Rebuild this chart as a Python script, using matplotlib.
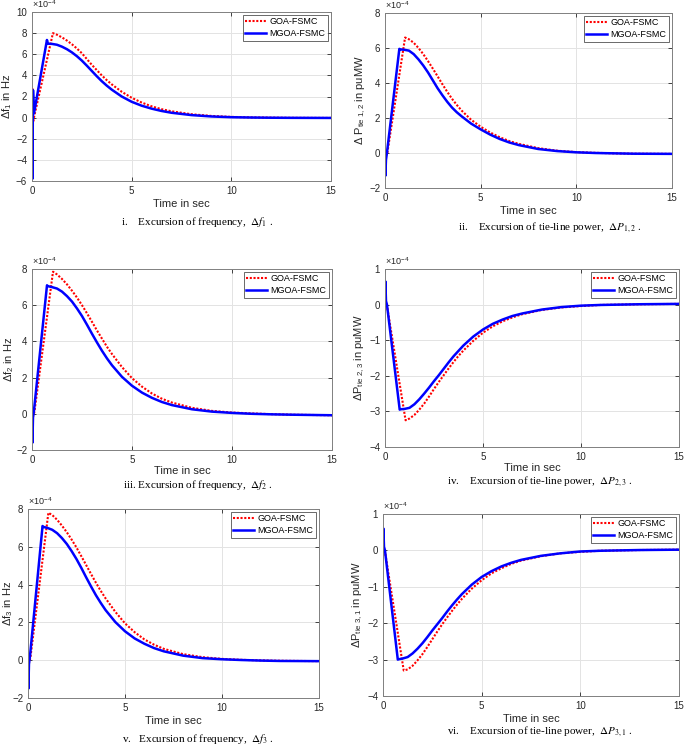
import matplotlib
matplotlib.use("Agg")
import matplotlib.pyplot as plt

plt.rcParams['font.family'] = ['Liberation Sans', 'DejaVu Sans']
plt.rcParams['mathtext.fontset'] = 'custom'
plt.rcParams['mathtext.rm'] = 'Liberation Sans'
plt.rcParams['mathtext.it'] = 'Liberation Sans:italic'

t_mgoa = [0, 0.02, 0.05, 0.1,
          0.75, 0.8, 1.0, 1.25, 1.5, 1.75, 2.0, 2.25, 2.5, 2.75, 3.0, 3.25, 3.5, 3.75, 4.0,
          4.5, 5, 5.5, 6, 6.5, 7,
          8, 9, 10, 11, 12, 13, 15]
t_goa = [0, 0.03, 0.06, 0.12,
         1.05, 1.25, 1.5, 1.75, 2.0, 2.25, 2.5, 2.75, 3.0, 3.25, 3.5, 3.75, 4.0,
         4.5, 5, 5.5, 6, 6.5, 7,
         8, 9, 10, 11, 12, 13, 15]

# values in units of 1e-4
df1_mgoa = [0, -5.8, 2.6, 0.4,
            7.35, 7.0, 6.98, 6.9, 6.72, 6.48, 6.18, 5.82, 5.4, 4.92, 4.42, 3.92, 3.45, 3.03, 2.65,
            2.0, 1.5, 1.13, 0.85, 0.63, 0.46,
            0.24, 0.11, 0.04, 0.01, -0.01, -0.02, -0.03]
df1_goa = [0, 2.8, -0.4, 0.2,
           8.0, 7.85, 7.6, 7.3, 6.95, 6.55, 6.1, 5.55, 5.0, 4.5, 4.0, 3.55, 3.15,
           2.45, 1.88, 1.43, 1.07, 0.8, 0.6,
           0.32, 0.16, 0.07, 0.02, 0, -0.02, -0.03]

dp12_mgoa = [0, -1.3, -0.4, 0.0,
             5.95, 5.92, 5.9, 5.85, 5.65, 5.35, 5.0, 4.6, 4.15, 3.7, 3.3, 2.93, 2.6, 2.33, 2.1,
             1.68, 1.35, 1.05, 0.8, 0.6, 0.45,
             0.23, 0.11, 0.04, 0.0, -0.02, -0.04, -0.05]
dp12_goa = [0, -0.2, -0.1, 0.0,
            6.6, 6.5, 6.3, 6.0, 5.65, 5.25, 4.82, 4.38, 3.93, 3.5, 3.1, 2.75, 2.43,
            1.9, 1.5, 1.17, 0.9, 0.68, 0.52,
            0.28, 0.13, 0.05, 0.01, -0.02, -0.04, -0.05]

df2_mgoa = [0, -1.6, -0.2, 0.2,
            7.1, 7.05, 7.0, 6.92, 6.75, 6.5, 6.2, 5.82, 5.4, 4.92, 4.42, 3.94, 3.48, 3.06, 2.68,
            2.04, 1.55, 1.17, 0.88, 0.65, 0.48,
            0.25, 0.12, 0.05, 0.0, -0.03, -0.05, -0.08]
df2_goa = [0, -0.3, -0.1, 0.1,
           7.85, 7.7, 7.45, 7.15, 6.8, 6.42, 6.0, 5.55, 5.08, 4.6, 4.15, 3.7, 3.3,
           2.58, 1.97, 1.5, 1.12, 0.83, 0.62,
           0.33, 0.16, 0.07, 0.02, -0.02, -0.05, -0.08]

dp23_mgoa = [0, 0.65, 0.1, 0.0,
             -2.95, -2.94, -2.93, -2.9, -2.8, -2.66, -2.5, -2.33, -2.15, -1.98, -1.8, -1.62, -1.45, -1.3, -1.15,
             -0.9, -0.7, -0.54, -0.42, -0.32, -0.25,
             -0.14, -0.07, -0.03, -0.01, 0.0, 0.01, 0.02]
dp23_goa = [0, -0.05, 0.0, -0.1,
            -3.25, -3.2, -3.1, -2.95, -2.78, -2.58, -2.37, -2.17, -1.98, -1.79, -1.61, -1.44, -1.29,
            -1.02, -0.79, -0.61, -0.47, -0.36, -0.27,
            -0.15, -0.08, -0.04, -0.01, 0.0, 0.01, 0.02]

df3_mgoa = [0, -1.5, -0.2, 0.2,
            7.1, 7.05, 7.0, 6.9, 6.72, 6.46, 6.15, 5.77, 5.35, 4.88, 4.38, 3.9, 3.44, 3.03, 2.65,
            2.02, 1.53, 1.15, 0.87, 0.64, 0.47,
            0.24, 0.11, 0.05, 0.01, -0.02, -0.04, -0.05]
df3_goa = [0, -0.3, -0.1, 0.1,
           7.8, 7.68, 7.43, 7.12, 6.77, 6.38, 5.96, 5.5, 5.03, 4.56, 4.1, 3.67, 3.27,
           2.56, 1.95, 1.48, 1.1, 0.82, 0.6,
           0.32, 0.16, 0.07, 0.02, -0.01, -0.03, -0.05]

dp31_mgoa = [0, 0.6, 0.1, 0.0,
             -3.0, -2.99, -2.97, -2.93, -2.83, -2.7, -2.55, -2.38, -2.2, -2.03, -1.86, -1.68, -1.51, -1.35, -1.2,
             -0.94, -0.73, -0.57, -0.44, -0.34, -0.26,
             -0.15, -0.08, -0.03, -0.01, 0.0, 0.01, 0.02]
dp31_goa = [0, -0.05, 0.0, -0.1,
            -3.3, -3.27, -3.17, -3.02, -2.85, -2.65, -2.44, -2.23, -2.03, -1.84, -1.66, -1.49, -1.33,
            -1.05, -0.82, -0.63, -0.49, -0.37, -0.28,
            -0.16, -0.08, -0.04, -0.01, 0.0, 0.01, 0.02]

ylabels = [r'$\Delta$f$_{1}$ in Hz', r'$\Delta$ P$_{\mathrm{tie\ 1,2}}$ in puMW',
           r'$\Delta$f$_{2}$ in Hz', r'$\Delta$P$_{\mathrm{tie\ 2,3}}$ in puMW',
           r'$\Delta$f$_{3}$ in Hz', r'$\Delta$P$_{\mathrm{tie\ 3,1}}$ in puMW']
captions = [r'i.    Excursion of frequency,  $\Delta f_1$ .',
            r'ii.    Excursion of tie-line power,  $\Delta P_{1,2}$ .',
            r'iii. Excursion of frequency,  $\Delta f_2$ .',
            r'iv.    Excursion of tie-line power,  $\Delta P_{2,3}$ .',
            r'v.   Excursion of frequency,  $\Delta f_3$ .',
            r'vi.    Excursion of tie-line power,  $\Delta P_{3,1}$ .']
ylims = [(-6, 10), (-2, 8), (-2, 8), (-4, 1), (-2, 8), (-4, 1)]
ysteps = [2, 2, 2, 1, 2, 1]
goa_series = [df1_goa, dp12_goa, df2_goa, dp23_goa, df3_goa, dp31_goa]
mgoa_series = [df1_mgoa, dp12_mgoa, df2_mgoa, dp23_mgoa, df3_mgoa, dp31_mgoa]

# layout in pixels: left, top, right, bottom of each axes; ylabel centre x; caption centre
W, H = 685, 748
boxes = [(32, 12, 331, 181), (385, 13, 672, 188),
         (32, 269, 332, 450), (385, 269, 679, 447),
         (28, 509, 319, 698), (383, 514, 679, 696)]
ylab_x = [7, 361, 9, 360, 8, 358]
xlab_pad = [2, 2, 0.5, 0.5, 2, 2]
cap_pos = [(197, 222), (550, 228), (198, 485), (540, 482), (198, 739), (540, 732)]

fig = plt.figure(figsize=(W / 100, H / 100), dpi=100)

for i in range(6):
    l, t, r, b = boxes[i]
    ax = fig.add_axes([l / W, 1 - b / H, (r - l) / W, (b - t) / H])
    ax.plot(t_goa, goa_series[i], color='red', ls=(0, (1, 0.8)), lw=1.5, label='GOA-FSMC')
    ax.plot(t_mgoa, mgoa_series[i], color='blue', ls='-', lw=1.8, label='MGOA-FSMC')
    lo, hi = ylims[i]
    ax.set_xlim(0, 15)
    ax.set_ylim(lo, hi)
    ax.set_xticks([0, 5, 10, 15])
    ax.set_yticks(range(lo, hi + 1, ysteps[i]))
    ax.grid(True, color='#e3e3e3', lw=0.7)
    ax.set_axisbelow(True)
    ax.tick_params(direction='in', length=3, labelsize=7, colors='#262626',
                   top=True, right=True, width=0.6)
    for s in ax.spines.values():
        s.set_color('#808080')
        s.set_linewidth(0.7)
    ax.set_xlabel('Time in sec', fontsize=8, labelpad=xlab_pad[i], color='#262626')
    ax.set_ylabel(ylabels[i], fontsize=8, color='#262626', va='center')
    ax.yaxis.set_label_coords((ylab_x[i] - l) / (r - l), 0.5)
    ax.text(0.0, 1.01, r'$\times10^{-4}$', transform=ax.transAxes,
            fontsize=6.5, color='#262626', va='bottom')
    leg = ax.legend(loc='upper right', fontsize=6.5, frameon=True, fancybox=False,
                    borderaxespad=0.3, handlelength=2.3, handletextpad=0.4,
                    borderpad=0.3, labelspacing=0.3)
    leg.get_frame().set_edgecolor('#262626')
    leg.get_frame().set_linewidth(0.6)
    cx, cy = cap_pos[i]
    fig.text(cx / W, 1 - cy / H, captions[i], ha='center', va='center',
             fontsize=8, family='Liberation Serif', math_fontfamily='stix')

fig.savefig('out.png', dpi=100)
